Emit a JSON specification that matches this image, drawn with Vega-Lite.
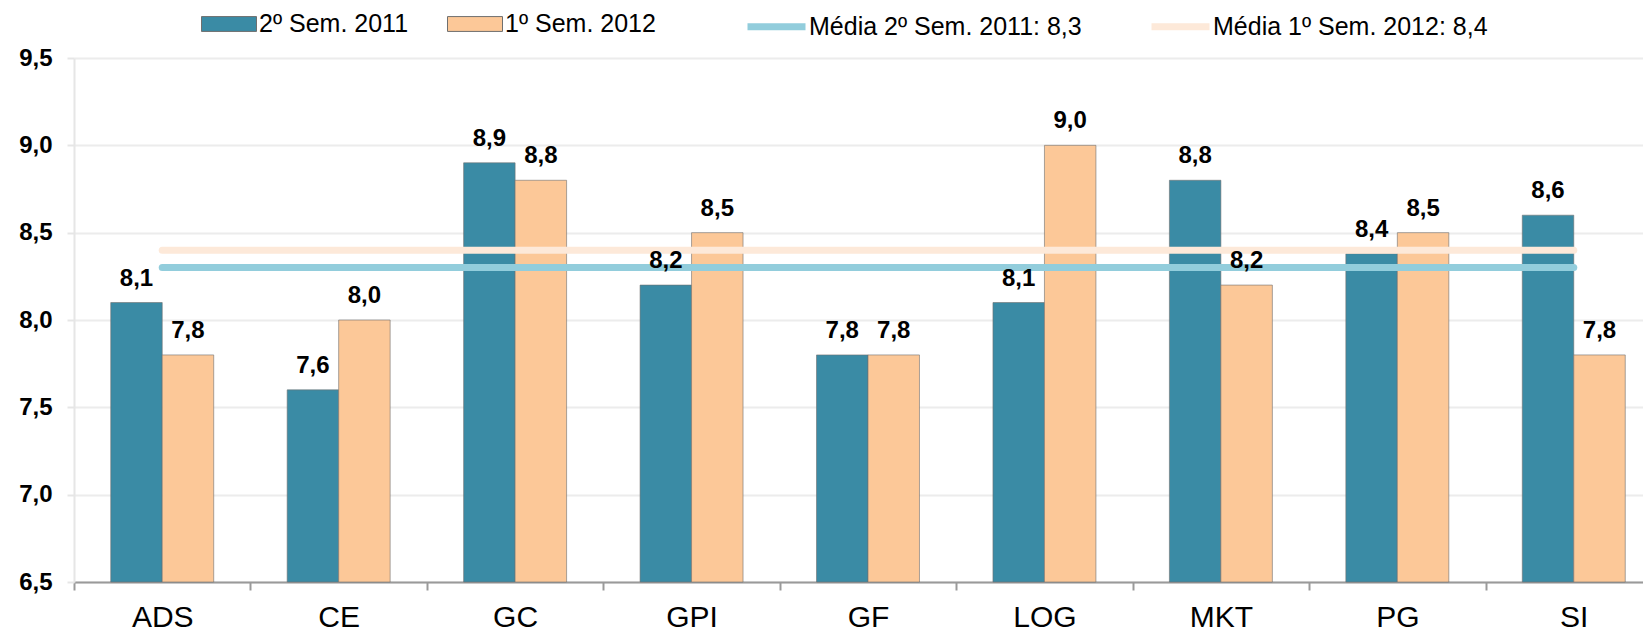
{
  "$schema": "https://vega.github.io/schema/vega-lite/v6.json",
  "width": 1588,
  "height": 524,
  "autosize": {"type": "none"},
  "padding": {"left": 74, "top": 58, "right": -19, "bottom": 51},
  "background": "white",
  "config": {
    "locale": {"number": {"decimal": ",", "thousands": ".", "grouping": [3], "currency": ["", " €"]}},
    "font": "Liberation Sans",
    "view": {"stroke": null}
  },
  "datasets": {
    "bars": [
      {"c": "ADS", "s": "2º Sem. 2011", "v": 8.1},
      {"c": "ADS", "s": "1º Sem. 2012", "v": 7.8},
      {"c": "CE", "s": "2º Sem. 2011", "v": 7.6},
      {"c": "CE", "s": "1º Sem. 2012", "v": 8.0},
      {"c": "GC", "s": "2º Sem. 2011", "v": 8.9},
      {"c": "GC", "s": "1º Sem. 2012", "v": 8.8},
      {"c": "GPI", "s": "2º Sem. 2011", "v": 8.2},
      {"c": "GPI", "s": "1º Sem. 2012", "v": 8.5},
      {"c": "GF", "s": "2º Sem. 2011", "v": 7.8},
      {"c": "GF", "s": "1º Sem. 2012", "v": 7.8},
      {"c": "LOG", "s": "2º Sem. 2011", "v": 8.1},
      {"c": "LOG", "s": "1º Sem. 2012", "v": 9.0},
      {"c": "MKT", "s": "2º Sem. 2011", "v": 8.8},
      {"c": "MKT", "s": "1º Sem. 2012", "v": 8.2},
      {"c": "PG", "s": "2º Sem. 2011", "v": 8.38},
      {"c": "PG", "s": "1º Sem. 2012", "v": 8.5},
      {"c": "SI", "s": "2º Sem. 2011", "v": 8.6},
      {"c": "SI", "s": "1º Sem. 2012", "v": 7.8}
    ],
    "means": [
      {"c": "ADS", "s": "Média 2º Sem. 2011: 8,3", "v": 8.3},
      {"c": "CE", "s": "Média 2º Sem. 2011: 8,3", "v": 8.3},
      {"c": "GC", "s": "Média 2º Sem. 2011: 8,3", "v": 8.3},
      {"c": "GPI", "s": "Média 2º Sem. 2011: 8,3", "v": 8.3},
      {"c": "GF", "s": "Média 2º Sem. 2011: 8,3", "v": 8.3},
      {"c": "LOG", "s": "Média 2º Sem. 2011: 8,3", "v": 8.3},
      {"c": "MKT", "s": "Média 2º Sem. 2011: 8,3", "v": 8.3},
      {"c": "PG", "s": "Média 2º Sem. 2011: 8,3", "v": 8.3},
      {"c": "SI", "s": "Média 2º Sem. 2011: 8,3", "v": 8.3},
      {"c": "ADS", "s": "Média 1º Sem. 2012: 8,4", "v": 8.4},
      {"c": "CE", "s": "Média 1º Sem. 2012: 8,4", "v": 8.4},
      {"c": "GC", "s": "Média 1º Sem. 2012: 8,4", "v": 8.4},
      {"c": "GPI", "s": "Média 1º Sem. 2012: 8,4", "v": 8.4},
      {"c": "GF", "s": "Média 1º Sem. 2012: 8,4", "v": 8.4},
      {"c": "LOG", "s": "Média 1º Sem. 2012: 8,4", "v": 8.4},
      {"c": "MKT", "s": "Média 1º Sem. 2012: 8,4", "v": 8.4},
      {"c": "PG", "s": "Média 1º Sem. 2012: 8,4", "v": 8.4},
      {"c": "SI", "s": "Média 1º Sem. 2012: 8,4", "v": 8.4}
    ]
  },
  "encoding": {
    "x": {
      "field": "c", "type": "nominal", "sort": null,
      "scale": {"paddingInner": 0, "paddingOuter": 0},
      "axis": {
        "title": null, "labelAngle": 0, "labelFontSize": 30, "labelColor": "black",
        "tickBand": "extent", "tickSize": 8, "tickColor": "#9a9a9a", "tickWidth": 2,
        "domainColor": "#9a9a9a", "domainWidth": 2, "labelPadding": 36,
        "labelBaseline": "alphabetic", "grid": false
      }
    },
    "y": {
      "field": "v", "type": "quantitative",
      "scale": {"domain": [6.5, 9.5], "nice": false, "zero": false},
      "axis": {
        "title": null, "values": [6.5, 7, 7.5, 8, 8.5, 9, 9.5], "format": ".1f",
        "labelFontSize": 24, "labelFontWeight": "bold", "labelColor": "black",
        "grid": true, "gridColor": "#ececec", "gridWidth": 2,
        "domainColor": "#e6e6e6", "domainWidth": 2,
        "tickColor": "#e6e6e6", "tickSize": 7, "tickWidth": 2, "labelPadding": 15
      }
    }
  },
  "layer": [
    {
      "data": {"name": "bars"},
      "mark": {"type": "bar", "stroke": "#6f6f6f", "strokeWidth": 1, "strokeOpacity": 0.6},
      "encoding": {
        "y2": {"datum": 6.5},
        "xOffset": {"field": "s", "type": "nominal",
          "scale": {"domain": ["2º Sem. 2011", "1º Sem. 2012"], "paddingInner": 0, "paddingOuter": 0.7136}},
        "fill": {
          "field": "s", "type": "nominal",
          "scale": {"domain": ["2º Sem. 2011", "1º Sem. 2012"], "range": ["#3a8ba5", "#fcc898"]},
          "legend": {
            "orient": "none", "legendX": 127, "legendY": -62, "direction": "horizontal",
            "title": null, "symbolType": "M-1,-0.27H1V0.27H-1Z", "symbolSize": 3025,
            "symbolStrokeColor": "#6f6f6f", "symbolStrokeWidth": 1, "symbolOpacity": 1,
            "labelFontSize": 25, "labelOffset": 2, "columnPadding": 36,
            "labelLimit": 400, "labelColor": "black", "padding": 0
          }
        }
      }
    },
    {
      "data": {"name": "means"},
      "mark": {"type": "line", "strokeWidth": 7, "strokeCap": "round"},
      "encoding": {
        "stroke": {
          "field": "s", "type": "nominal",
          "scale": {"domain": ["Média 2º Sem. 2011: 8,3", "Média 1º Sem. 2012: 8,4"], "range": ["#92cddc", "#fde9d9"]},
          "legend": {
            "orient": "none", "legendX": 670, "legendY": -64, "direction": "horizontal",
            "title": null, "symbolType": "stroke", "symbolSize": 3364, "symbolStrokeWidth": 7,
            "labelFontSize": 25, "labelOffset": 0, "columnPadding": 55,
            "labelLimit": 500, "labelColor": "black", "padding": 0
          }
        }
      }
    },
    {
      "data": {"name": "bars"},
      "mark": {"type": "text", "baseline": "alphabetic", "dy": -17, "fontSize": 24, "fontWeight": "bold", "fill": "black"},
      "encoding": {
        "xOffset": {"field": "s", "type": "nominal",
          "scale": {"domain": ["2º Sem. 2011", "1º Sem. 2012"], "paddingInner": 0, "paddingOuter": 0.7136}},
        "text": {"field": "v", "type": "quantitative", "format": ".1f"}
      }
    }
  ]
}
